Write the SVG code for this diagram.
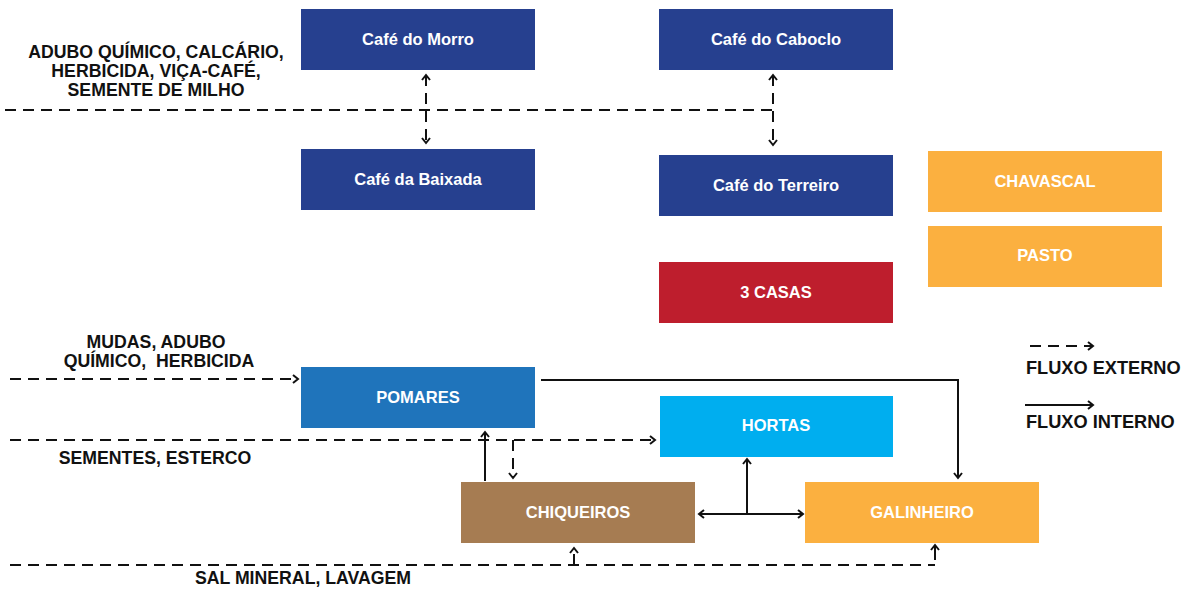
<svg xmlns="http://www.w3.org/2000/svg" width="1181" height="590" viewBox="0 0 1181 590">
<style>
.box{stroke:none}
.blue{fill:#26408f}
.orange{fill:#fbb040}
.red{fill:#be1e2d}
.lbl{font-family:"Liberation Sans",Arial,sans-serif;font-weight:bold;font-size:16.5px;fill:#fff;text-anchor:middle;dominant-baseline:central}
.txt{font-family:"Liberation Sans",Arial,sans-serif;font-weight:bold;font-size:17.7px;fill:#111;text-anchor:middle;white-space:pre}
.leg{font-family:"Liberation Sans",Arial,sans-serif;font-weight:bold;font-size:18.2px;fill:#111}
.dash{fill:none;stroke:#111;stroke-width:2;stroke-dasharray:11 7}
.solid{fill:none;stroke:#111;stroke-width:2}
</style>
<defs>
<marker id="ah" viewBox="0 0 10 10" refX="8" refY="5" markerWidth="10" markerHeight="10" markerUnits="userSpaceOnUse" orient="auto-start-reverse">
<path d="M3,1 L8,5 L3,9" fill="none" stroke="#111" stroke-width="2"/>
</marker>
</defs>
<rect width="1181" height="590" fill="#fff"/>

<g id="cafe-morro"><rect class="box blue" x="301" y="9" width="234" height="61"/><text class="lbl" x="418" y="39">Café do Morro</text></g>
<g id="cafe-caboclo"><rect class="box blue" x="659" y="9" width="234" height="61"/><text class="lbl" x="776" y="39">Café do Caboclo</text></g>
<g id="cafe-baixada"><rect class="box blue" x="301" y="149" width="234" height="61"/><text class="lbl" x="418" y="179">Café da Baixada</text></g>
<g id="cafe-terreiro"><rect class="box blue" x="659" y="155" width="234" height="61"/><text class="lbl" x="776" y="185">Café do Terreiro</text></g>
<g id="chavascal"><rect class="box orange" x="928" y="151" width="234" height="61"/><text class="lbl" x="1045" y="181">CHAVASCAL</text></g>
<g id="pasto"><rect class="box orange" x="928" y="226" width="234" height="61"/><text class="lbl" x="1045" y="255">PASTO</text></g>
<g id="casas"><rect class="box red" x="659" y="262" width="234" height="61"/><text class="lbl" x="776" y="292">3 CASAS</text></g>
<g id="pomares"><rect class="box" fill="#1f74bb" x="301" y="367" width="234" height="61"/><text class="lbl" x="418" y="397">POMARES</text></g>
<g id="hortas"><rect class="box" fill="#00aeef" x="660" y="396" width="233" height="61"/><text class="lbl" x="776" y="425">HORTAS</text></g>
<g id="chiqueiros"><rect class="box" fill="#a67c52" x="461" y="482" width="234" height="61"/><text class="lbl" x="578" y="512">CHIQUEIROS</text></g>
<g id="galinheiro"><rect class="box orange" x="805" y="482" width="234" height="61"/><text class="lbl" x="922" y="512">GALINHEIRO</text></g>

<g id="labels">
<text class="txt" x="156" y="58">ADUBO QUÍMICO, CALCÁRIO,</text>
<text class="txt" x="156" y="77">HERBICIDA, VIÇA-CAFÉ,</text>
<text class="txt" x="156" y="96">SEMENTE DE MILHO</text>
<text class="txt" x="156" y="348">MUDAS, ADUBO</text>
<text class="txt" x="159" y="367" xml:space="preserve">QUÍMICO,  HERBICIDA</text>
<text class="txt" x="155" y="464">SEMENTES, ESTERCO</text>
<text class="txt" x="303" y="584">SAL MINERAL, LAVAGEM</text>
</g>

<g id="connectors">
<path class="dash" d="M5,110 H773"/>
<path class="dash" d="M426,75 V143" marker-start="url(#ah)" marker-end="url(#ah)"/>
<path class="dash" d="M773,75 V145" marker-start="url(#ah)" marker-end="url(#ah)"/>
<path class="dash" d="M10,379 H298" marker-end="url(#ah)"/>
<path class="dash" d="M10,440 H655" marker-end="url(#ah)"/>
<path class="dash" d="M513,440 V478" marker-end="url(#ah)"/>
<path class="solid" d="M485,481 V432" marker-end="url(#ah)"/>
<path class="solid" d="M541,380 H958 V478" marker-end="url(#ah)"/>
<path class="solid" d="M699,514 H803" marker-start="url(#ah)" marker-end="url(#ah)"/>
<path class="solid" d="M747,514 V459" marker-end="url(#ah)"/>
<path class="dash" d="M10,565 H935"/>
<path class="dash" d="M574,565 V548" marker-end="url(#ah)"/>
<path class="solid" d="M935,560 V545" marker-end="url(#ah)"/>
</g>

<g id="legend">
<path class="dash" d="M1030,346 H1093" stroke-dasharray="10 6" marker-end="url(#ah)"/>
<text class="leg" x="1026" y="374">FLUXO EXTERNO</text>
<path class="solid" d="M1025,405 H1093" marker-end="url(#ah)"/>
<text class="leg" x="1026" y="428">FLUXO INTERNO</text>
</g>
</svg>
